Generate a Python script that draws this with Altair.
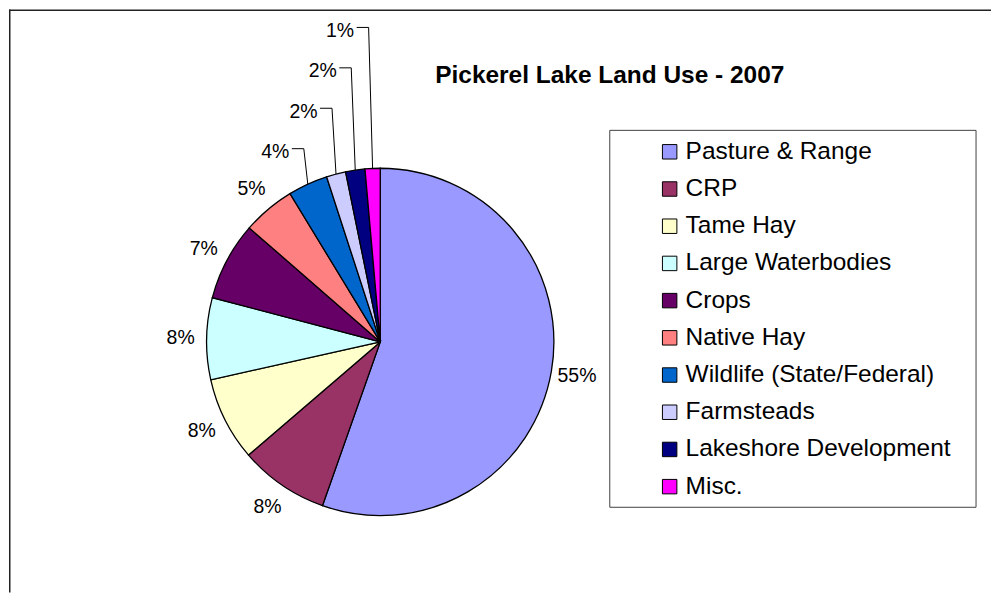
import altair as alt
import pandas as pd
import numpy as np

# ---------------- data ----------------
categories = ["Pasture & Range", "CRP", "Tame Hay", "Large Waterbodies", "Crops",
              "Native Hay", "Wildlife (State/Federal)", "Farmsteads",
              "Lakeshore Development", "Misc."]
values = [55.4, 8.3, 7.8, 7.6, 7.3, 4.9, 3.7, 1.8, 1.8, 1.4]
pct_labels = ["55%", "8%", "8%", "8%", "7%", "5%", "4%", "2%", "2%", "1%"]
colors = ["#9999FF", "#993366", "#FFFFCC", "#CCFFFF", "#660066",
          "#FF8080", "#0066CC", "#CCCCFF", "#000080", "#FF00FF"]
title_text = "Pickerel Lake Land Use - 2007"

# ---------------- layout ----------------
FONT = "Liberation Sans"
W, H = 984, 584
CX, CY, R = 372, 333, 174
LABEL_R = 200
N_RADIAL = 6          # labels after this index are stacked with leader lines

total = float(sum(values))
vals = np.array(values, dtype=float)
cum = np.concatenate([[0.0], np.cumsum(vals)[:-1]])
mid = 2 * np.pi * (cum + vals / 2) / total

pie_df = pd.DataFrame({"category": categories, "value": values,
                       "order": list(range(len(categories)))})

rad_rows, small_rows, lead_rows = [], [], []
y_prev = None
for i, (lab, a) in enumerate(zip(pct_labels, mid)):
    if i < N_RADIAL:
        rad_rows.append({"x": CX + LABEL_R * np.sin(a),
                         "y": CY - LABEL_R * np.cos(a), "text": lab})
    else:
        ex, ey = CX + R * np.sin(a), CY - R * np.cos(a)
        ly = ey - 32 if y_prev is None else y_prev - 40.5
        y_prev = ly
        elbow = ex - 4
        small_rows.append({"x": elbow - 14.5, "y": ly, "text": lab})
        for j, (px, py) in enumerate([(elbow - 12, ly - 3.5), (elbow, ly - 3.5), (ex, ey)]):
            lead_rows.append({"id": f"{i}", "j": j, "x": px, "y": py})

rad_df = pd.DataFrame(rad_rows)
small_df = pd.DataFrame(small_rows)
lead_df = pd.DataFrame(lead_rows)

LEG_Y0, LEG_STEP = 142.5, 37.28
legend_df = pd.DataFrame({"category": categories,
                          "y": [LEG_Y0 + LEG_STEP * i for i in range(len(categories))]})

xs = alt.Scale(domain=[0, W], nice=False, zero=False)
ys = alt.Scale(domain=[0, H], nice=False, zero=False, reverse=True)
cs = alt.Scale(domain=categories, range=colors)
one = pd.DataFrame({"t": [title_text]})

frame_top = alt.Chart(one).mark_rule(color="#222222", strokeWidth=1.5).encode(
    x=alt.value(0), x2=alt.value(W), y=alt.value(0.75), y2=alt.value(0.75))
frame_left = alt.Chart(one).mark_rule(color="#222222", strokeWidth=1.5).encode(
    x=alt.value(0.75), x2=alt.value(0.75), y=alt.value(0), y2=alt.value(H))

arcs = alt.Chart(pie_df).mark_arc(radius=R, stroke="black", strokeWidth=1.3).encode(
    theta=alt.Theta("value:Q", stack=True),
    order=alt.Order("order:Q"),
    color=alt.Color("category:N", scale=cs, legend=None),
    x=alt.value(CX), y=alt.value(CY))

leaders = alt.Chart(lead_df).mark_line(color="black", strokeWidth=1).encode(
    x=alt.X("x:Q", scale=xs, axis=None),
    y=alt.Y("y:Q", scale=ys, axis=None),
    detail="id:N", order="j:Q")

rad_text = alt.Chart(rad_df).mark_text(font=FONT, fontSize=19.5, align="center",
                                       baseline="middle", color="black").encode(
    x=alt.X("x:Q", scale=xs, axis=None),
    y=alt.Y("y:Q", scale=ys, axis=None),
    text="text:N")

small_text = alt.Chart(small_df).mark_text(font=FONT, fontSize=19.5, align="right",
                                           baseline="middle", color="black").encode(
    x=alt.X("x:Q", scale=xs, axis=None),
    y=alt.Y("y:Q", scale=ys, axis=None),
    text="text:N")

legend_box = alt.Chart(one).mark_rect(fill="white", stroke="#404040", strokeWidth=1).encode(
    x=alt.value(602), x2=alt.value(969), y=alt.value(121), y2=alt.value(498.7))

legend_sw = alt.Chart(legend_df).mark_square(size=210, stroke="black", strokeWidth=1,
                                             opacity=1).encode(
    x=alt.value(662),
    y=alt.Y("y:Q", scale=ys, axis=None),
    color=alt.Color("category:N", scale=cs, legend=None))

legend_txt = alt.Chart(legend_df).mark_text(font=FONT, fontSize=24.5, align="left",
                                            baseline="middle", color="black").encode(
    x=alt.value(678),
    y=alt.Y("y:Q", scale=ys, axis=None),
    text="category:N")

title = alt.Chart(one).mark_text(font=FONT, fontSize=24.5, fontWeight="bold",
                                 align="center", baseline="middle", color="black").encode(
    x=alt.value(602), y=alt.value(66.5), text="t:N")

chart = alt.layer(frame_top, frame_left, arcs, leaders, rad_text, small_text,
                  legend_box, legend_sw, legend_txt, title).properties(
    width=W, height=H, padding=0
).configure_view(stroke=None)

chart.save("out.html", embed_options={"renderer": "svg", "actions": False})
